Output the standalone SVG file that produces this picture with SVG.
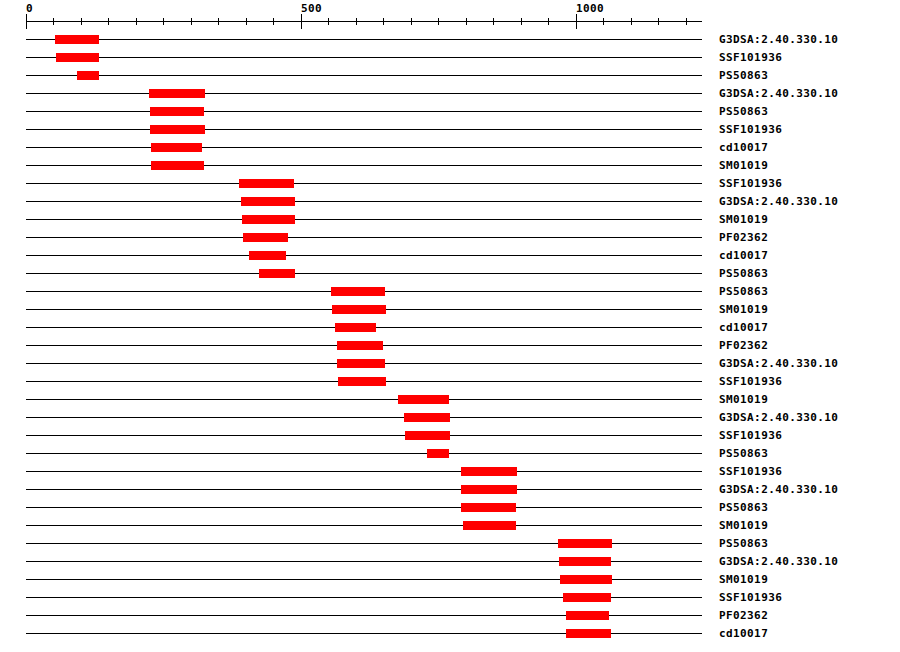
<svg xmlns="http://www.w3.org/2000/svg" width="900" height="652" viewBox="0 0 900 652">
<style>
.ln{stroke:#000;stroke-width:1;fill:none}
.bar{fill:#ff0000}
.t{font-family:"DejaVu Sans Mono","Liberation Mono",monospace;font-weight:bold;font-size:11px;letter-spacing:0.4px;fill:#000}
</style>
<rect width="900" height="652" fill="#fff"/>
<g id="axis">
<line class="ln" x1="26" y1="21.5" x2="702" y2="21.5"/>
<path class="ln" d="M26.5 14V29M301.5 14V29M576.5 14V29M53.5 18V25M81.5 18V25M108.5 18V25M136.5 18V25M163.5 18V25M191.5 18V25M218.5 18V25M246.5 18V25M273.5 18V25M328.5 18V25M356.5 18V25M383.5 18V25M411.5 18V25M438.5 18V25M466.5 18V25M493.5 18V25M521.5 18V25M548.5 18V25M603.5 18V25M631.5 18V25M658.5 18V25M686.5 18V25"/>
<text class="t" x="26" y="12">0</text>
<text class="t" x="301" y="12">500</text>
<text class="t" x="576" y="12">1000</text>
</g>
<g id="r1"><line class="ln" x1="26" y1="39.5" x2="702" y2="39.5"/><rect class="bar" x="55" y="35" width="44" height="9"/><text class="t" x="719" y="43">G3DSA:2.40.330.10</text></g>
<g id="r2"><line class="ln" x1="26" y1="57.5" x2="702" y2="57.5"/><rect class="bar" x="56" y="53" width="43" height="9"/><text class="t" x="719" y="61">SSF101936</text></g>
<g id="r3"><line class="ln" x1="26" y1="75.5" x2="702" y2="75.5"/><rect class="bar" x="77" y="71" width="22" height="9"/><text class="t" x="719" y="79">PS50863</text></g>
<g id="r4"><line class="ln" x1="26" y1="93.5" x2="702" y2="93.5"/><rect class="bar" x="149" y="89" width="56" height="9"/><text class="t" x="719" y="97">G3DSA:2.40.330.10</text></g>
<g id="r5"><line class="ln" x1="26" y1="111.5" x2="702" y2="111.5"/><rect class="bar" x="150" y="107" width="54" height="9"/><text class="t" x="719" y="115">PS50863</text></g>
<g id="r6"><line class="ln" x1="26" y1="129.5" x2="702" y2="129.5"/><rect class="bar" x="150" y="125" width="55" height="9"/><text class="t" x="719" y="133">SSF101936</text></g>
<g id="r7"><line class="ln" x1="26" y1="147.5" x2="702" y2="147.5"/><rect class="bar" x="151" y="143" width="51" height="9"/><text class="t" x="719" y="151">cd10017</text></g>
<g id="r8"><line class="ln" x1="26" y1="165.5" x2="702" y2="165.5"/><rect class="bar" x="151" y="161" width="53" height="9"/><text class="t" x="719" y="169">SM01019</text></g>
<g id="r9"><line class="ln" x1="26" y1="183.5" x2="702" y2="183.5"/><rect class="bar" x="239" y="179" width="55" height="9"/><text class="t" x="719" y="187">SSF101936</text></g>
<g id="r10"><line class="ln" x1="26" y1="201.5" x2="702" y2="201.5"/><rect class="bar" x="241" y="197" width="54" height="9"/><text class="t" x="719" y="205">G3DSA:2.40.330.10</text></g>
<g id="r11"><line class="ln" x1="26" y1="219.5" x2="702" y2="219.5"/><rect class="bar" x="242" y="215" width="53" height="9"/><text class="t" x="719" y="223">SM01019</text></g>
<g id="r12"><line class="ln" x1="26" y1="237.5" x2="702" y2="237.5"/><rect class="bar" x="243" y="233" width="45" height="9"/><text class="t" x="719" y="241">PF02362</text></g>
<g id="r13"><line class="ln" x1="26" y1="255.5" x2="702" y2="255.5"/><rect class="bar" x="249" y="251" width="37" height="9"/><text class="t" x="719" y="259">cd10017</text></g>
<g id="r14"><line class="ln" x1="26" y1="273.5" x2="702" y2="273.5"/><rect class="bar" x="259" y="269" width="36" height="9"/><text class="t" x="719" y="277">PS50863</text></g>
<g id="r15"><line class="ln" x1="26" y1="291.5" x2="702" y2="291.5"/><rect class="bar" x="331" y="287" width="54" height="9"/><text class="t" x="719" y="295">PS50863</text></g>
<g id="r16"><line class="ln" x1="26" y1="309.5" x2="702" y2="309.5"/><rect class="bar" x="332" y="305" width="54" height="9"/><text class="t" x="719" y="313">SM01019</text></g>
<g id="r17"><line class="ln" x1="26" y1="327.5" x2="702" y2="327.5"/><rect class="bar" x="335" y="323" width="41" height="9"/><text class="t" x="719" y="331">cd10017</text></g>
<g id="r18"><line class="ln" x1="26" y1="345.5" x2="702" y2="345.5"/><rect class="bar" x="337" y="341" width="46" height="9"/><text class="t" x="719" y="349">PF02362</text></g>
<g id="r19"><line class="ln" x1="26" y1="363.5" x2="702" y2="363.5"/><rect class="bar" x="337" y="359" width="48" height="9"/><text class="t" x="719" y="367">G3DSA:2.40.330.10</text></g>
<g id="r20"><line class="ln" x1="26" y1="381.5" x2="702" y2="381.5"/><rect class="bar" x="338" y="377" width="48" height="9"/><text class="t" x="719" y="385">SSF101936</text></g>
<g id="r21"><line class="ln" x1="26" y1="399.5" x2="702" y2="399.5"/><rect class="bar" x="398" y="395" width="51" height="9"/><text class="t" x="719" y="403">SM01019</text></g>
<g id="r22"><line class="ln" x1="26" y1="417.5" x2="702" y2="417.5"/><rect class="bar" x="404" y="413" width="46" height="9"/><text class="t" x="719" y="421">G3DSA:2.40.330.10</text></g>
<g id="r23"><line class="ln" x1="26" y1="435.5" x2="702" y2="435.5"/><rect class="bar" x="405" y="431" width="45" height="9"/><text class="t" x="719" y="439">SSF101936</text></g>
<g id="r24"><line class="ln" x1="26" y1="453.5" x2="702" y2="453.5"/><rect class="bar" x="427" y="449" width="22" height="9"/><text class="t" x="719" y="457">PS50863</text></g>
<g id="r25"><line class="ln" x1="26" y1="471.5" x2="702" y2="471.5"/><rect class="bar" x="461" y="467" width="56" height="9"/><text class="t" x="719" y="475">SSF101936</text></g>
<g id="r26"><line class="ln" x1="26" y1="489.5" x2="702" y2="489.5"/><rect class="bar" x="461" y="485" width="56" height="9"/><text class="t" x="719" y="493">G3DSA:2.40.330.10</text></g>
<g id="r27"><line class="ln" x1="26" y1="507.5" x2="702" y2="507.5"/><rect class="bar" x="461" y="503" width="55" height="9"/><text class="t" x="719" y="511">PS50863</text></g>
<g id="r28"><line class="ln" x1="26" y1="525.5" x2="702" y2="525.5"/><rect class="bar" x="463" y="521" width="53" height="9"/><text class="t" x="719" y="529">SM01019</text></g>
<g id="r29"><line class="ln" x1="26" y1="543.5" x2="702" y2="543.5"/><rect class="bar" x="558" y="539" width="54" height="9"/><text class="t" x="719" y="547">PS50863</text></g>
<g id="r30"><line class="ln" x1="26" y1="561.5" x2="702" y2="561.5"/><rect class="bar" x="559" y="557" width="52" height="9"/><text class="t" x="719" y="565">G3DSA:2.40.330.10</text></g>
<g id="r31"><line class="ln" x1="26" y1="579.5" x2="702" y2="579.5"/><rect class="bar" x="560" y="575" width="52" height="9"/><text class="t" x="719" y="583">SM01019</text></g>
<g id="r32"><line class="ln" x1="26" y1="597.5" x2="702" y2="597.5"/><rect class="bar" x="563" y="593" width="48" height="9"/><text class="t" x="719" y="601">SSF101936</text></g>
<g id="r33"><line class="ln" x1="26" y1="615.5" x2="702" y2="615.5"/><rect class="bar" x="566" y="611" width="43" height="9"/><text class="t" x="719" y="619">PF02362</text></g>
<g id="r34"><line class="ln" x1="26" y1="633.5" x2="702" y2="633.5"/><rect class="bar" x="566" y="629" width="45" height="9"/><text class="t" x="719" y="637">cd10017</text></g>
</svg>
